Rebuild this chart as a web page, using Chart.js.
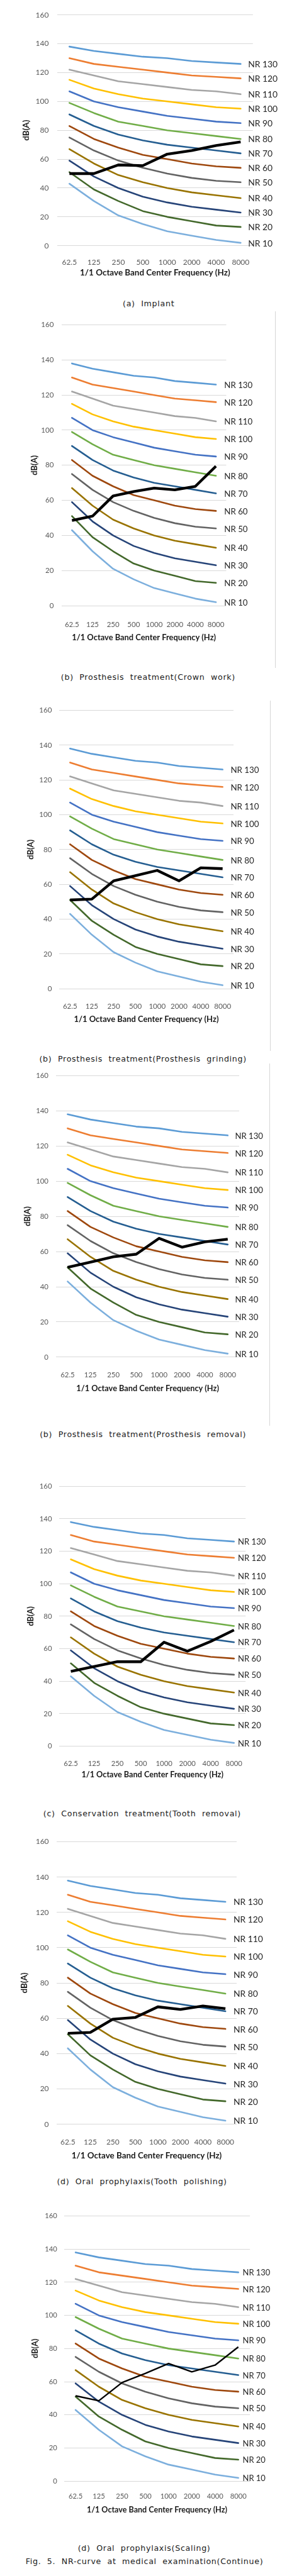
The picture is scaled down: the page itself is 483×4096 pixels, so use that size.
<!DOCTYPE html>
<html>
<head>
<meta charset="utf-8">
<script src="https://cdn.jsdelivr.net/npm/chart.js@4.4.1/dist/chart.umd.min.js"></script>
<style>
  body { margin: 0; background: #fff; width: 483px; height: 4096px; position: relative; overflow: hidden; }
  canvas { position: absolute; left: 0; }
  .cap { position: absolute; transform: translate(-50%, -50%); white-space: pre; font-family: "DejaVu Sans", sans-serif; color: #1a1a1a; line-height: 16px; }
  .frame { position: absolute; width: 1px; background: #d6d6d6; }
</style>
</head>
<body>
<script>
// scale from the reference to this page
const S = 0.79;

// octave band centres
const frequencies = ['62.5', '125', '250', '500', '1000', '2000', '4000', '8000'];

// NR curves (dB)
const nrNames = ['NR 130', 'NR 120', 'NR 110', 'NR 100', 'NR 90', 'NR 80', 'NR 70', 'NR 60', 'NR 50', 'NR 40', 'NR 30', 'NR 20', 'NR 10'];
const nr130 = [138, 135, 133, 131, 130, 128, 127, 126];
const nr120 = [130, 126, 124, 122, 120, 118, 117, 116];
const nr110 = [122, 118, 114, 112, 110, 108, 107, 105];
const nr100 = [115, 109, 105, 102, 100, 98, 96, 95];
const nr90 = [107, 100, 96, 93, 90, 88, 86, 85];
const nr80 = [99, 92, 86, 83, 80, 78, 76, 74];
const nr70 = [91, 83, 77, 73, 70, 68, 66, 64];
const nr60 = [83, 74, 68, 63, 60, 57, 55, 54];
const nr50 = [75, 66, 59, 54, 50, 47, 45, 44];
const nr40 = [67, 57, 49, 44, 40, 37, 35, 33];
const nr30 = [59, 48, 40, 34, 30, 27, 25, 23];
const nr20 = [51, 39, 31, 24, 20, 17, 14, 13];
const nr10 = [43, 31, 21, 15, 10, 7, 4, 2];
const nrCurves = [nr130, nr120, nr110, nr100, nr90, nr80, nr70, nr60, nr50, nr40, nr30, nr20, nr10];

// measured spectra
const implant = [50, 50, 56, 55.5, 63.5, 66, 69.5, 72];
const crownWork = [48.5, 51, 62.5, 65, 67, 66, 68, 79.5];
const prosthesisGrinding = [51, 51.5, 62, 65, 68, 62, 69.5, 69];
const prosthesisRemoval = [51, 54, 57, 58.5, 67.5, 62.5, 65.5, 67];
const toothRemoval = [46, 49, 52, 52, 64, 58.5, 64.5, 71.5];
const toothPolishing = [51.5, 52, 59.5, 60.5, 66.5, 65, 67, 65.5];
const scaling = [51.5, 48.5, 59.5, 65, 71, 66, 70, 81];

const captions = [
  '(a)  Implant',
  '(b)  Prosthesis  treatment(Crown  work)',
  '(b)  Prosthesis  treatment(Prosthesis  grinding)',
  '(b)  Prosthesis  treatment(Prosthesis  removal)',
  '(c)  Conservation  treatment(Tooth  removal)',
  '(d)  Oral  prophylaxis(Tooth  polishing)',
  '(d)  Oral  prophylaxis(Scaling)'
];
const figCaption = 'Fig.  5.  NR-curve  at  medical  examination(Continue)';

const nrColors = ['#5B9BD5', '#ED7D31', '#A5A5A5', '#FFC000', '#4472C4', '#70AD47',
  '#255E91', '#9E480E', '#636363', '#997300', '#264478', '#43682B', '#7CAFDD'];

// panel geometry in reference pixels
const panels = [
  { series: implant, top: 22, bottom: 494.6, left: 115, right: 508.6, labR: 98, tickY: 518, titleY: 549, yTitleX: 52.6, nrX: 499, capY: 611, capX: 299, fs: 1, lw: 5.5 },
  { series: crownWork, top: 646.5, bottom: 1219, left: 124, right: 455, labR: 108, tickY: 1247, titleY: 1283.5, yTitleX: 69.4, nrX: 451, capY: 1363, capX: 298, fs: 0.96, lw: 5.5, frame: [553, 627, 1345] },
  { series: prosthesisGrinding, top: 1424, bottom: 1990, left: 119, right: 469.6, labR: 104.4, tickY: 2015.8, titleY: 2051.6, yTitleX: 62.4, nrX: 463.8, capY: 2132, capX: 287.6, fs: 0.965, lw: 5.5, frame: [543, 1410, 2115] },
  { series: prosthesisRemoval, top: 2158.6, bottom: 2731.6, left: 113, right: 481, labR: 97.4, tickY: 2757.6, titleY: 2795, yTitleX: 55.7, nrX: 472.7, capY: 2887, capX: 287.6, fs: 0.95, lw: 5.5, frame: [541.7, 2140, 2870] },
  { series: toothRemoval, top: 2986, bottom: 3514.6, left: 119, right: 494, labR: 104.4, tickY: 3539.5, titleY: 3572, yTitleX: 61.6, nrX: 478.6, capY: 3651, capX: 286, fs: 0.945, lw: 5.5 },
  { series: toothPolishing, top: 3700, bottom: 4275.5, left: 113.8, right: 476, labR: 98.2, tickY: 4301.5, titleY: 4339, yTitleX: 49.5, nrX: 469.6, capY: 4391.5, capX: 285.6, fs: 1, lw: 5.5 },
  { series: scaling, top: 4455.5, bottom: 4994, left: 128.6, right: 502.7, labR: 115, tickY: 5014.3, titleY: 5051.7, yTitleX: 71.3, nrX: 488, capY: 5129.3, capX: 290, fs: 0.935, lw: 3 }
];

// writes the series name just right of each NR curve's last point
const nrLabels = {
  id: 'nrLabels',
  afterDatasetsDraw(chart, args, opts) {
    const ctx = chart.ctx;
    ctx.save();
    ctx.font = opts.font;
    ctx.fillStyle = '#262626';
    ctx.textAlign = 'left';
    ctx.textBaseline = 'middle';
    chart.data.datasets.forEach((ds, i) => {
      if (!ds.endLabel) return;
      const pts = chart.getDatasetMeta(i).data;
      const last = pts[pts.length - 1];
      ctx.fillText(ds.label, opts.x, last.y + 1);
    });
    ctx.restore();
  }
};

panels.forEach((p, k) => {
  const tickSize = 15.2 * S * p.fs;
  const titleSize = 17 * S * p.fs;
  const nrSize = 17.5 * S * p.fs;
  const titleLH = titleSize * 1.2;
  const plotH = (p.bottom - p.top) * S;
  const xAxisH = (p.titleY - p.bottom) * S + titleLH / 2;
  const cTop = Math.round(p.top * S) - 14;
  const padTop = p.top * S - cTop;
  const cH = Math.ceil(padTop + plotH + xAxisH + 4);

  const canvas = document.createElement('canvas');
  canvas.width = 483;
  canvas.height = cH;
  canvas.style.top = cTop + 'px';
  document.body.appendChild(canvas);

  const datasets = nrCurves.map((vals, i) => ({
    label: nrNames[i],
    data: vals,
    borderColor: nrColors[i],
    borderWidth: 3.3 * S,
    pointRadius: 0,
    tension: 0,
    borderCapStyle: 'round',
    borderJoinStyle: 'round',
    endLabel: true,
    order: 1
  }));
  datasets.push({
    label: 'measured',
    data: p.series,
    borderColor: '#000',
    borderWidth: p.lw * S,
    pointRadius: 0,
    tension: 0,
    borderJoinStyle: 'round',
    order: 0
  });

  new Chart(canvas, {
    type: 'line',
    data: { labels: frequencies, datasets: datasets },
    options: {
      responsive: false,
      animation: false,
      layout: { padding: { top: padTop, left: 0, right: 483 - p.right * S, bottom: cH - padTop - plotH - xAxisH } },
      plugins: {
        legend: { display: false },
        tooltip: { enabled: false },
        nrLabels: { x: p.nrX * S, font: nrSize.toFixed(2) + 'px Lato' }
      },
      scales: {
        x: {
          offset: true,
          grid: { display: false },
          border: { display: false },
          ticks: {
            color: '#595959', autoSkip: false, maxRotation: 0,
            font: { family: 'Lato', size: tickSize },
            padding: (p.tickY - p.bottom) * S - tickSize * 0.6
          },
          title: {
            display: true, text: '1/1 Octave Band Center Frequency (Hz)', color: '#1a1a1a',
            font: { family: 'Lato', size: titleSize, weight: 'bold' },
            padding: { top: 0, bottom: 0 }
          },
          afterFit: s => { s.height = xAxisH; }
        },
        y: {
          min: 0, max: 160,
          grid: { color: '#d9d9d9', drawTicks: false },
          border: { display: false },
          ticks: {
            stepSize: 20, color: '#595959',
            font: { family: 'Lato', size: tickSize },
            padding: (p.left - p.labR) * S
          },
          title: {
            display: true, text: 'dB(A)', color: '#1a1a1a',
            font: { family: 'Lato', size: titleSize, weight: 'bold' },
            padding: { top: p.yTitleX * S - titleLH / 2, bottom: 0 }
          },
          afterFit: s => { s.width = p.left * S; }
        }
      }
    },
    plugins: [nrLabels]
  });

  if (p.frame) {
    const f = document.createElement('div');
    f.className = 'frame';
    f.style.left = (p.frame[0] * S).toFixed(1) + 'px';
    f.style.top = (p.frame[1] * S).toFixed(1) + 'px';
    f.style.height = ((p.frame[2] - p.frame[1]) * S).toFixed(1) + 'px';
    document.body.appendChild(f);
  }

  const c = document.createElement('div');
  c.className = 'cap';
  c.style.fontSize = (16 * S).toFixed(2) + 'px';
  c.style.letterSpacing = (0.9 * S).toFixed(2) + 'px';
  c.style.left = (p.capX * S).toFixed(1) + 'px';
  c.style.top = (p.capY * S).toFixed(1) + 'px';
  c.textContent = captions[k];
  document.body.appendChild(c);
});

const fig = document.createElement('div');
fig.className = 'cap';
fig.style.fontSize = (16 * S).toFixed(2) + 'px';
fig.style.letterSpacing = (0.9 * S).toFixed(2) + 'px';
fig.style.left = (290.5 * S).toFixed(1) + 'px';
fig.style.top = (5156 * S).toFixed(1) + 'px';
fig.textContent = figCaption;
document.body.appendChild(fig);
</script>
</body>
</html>
